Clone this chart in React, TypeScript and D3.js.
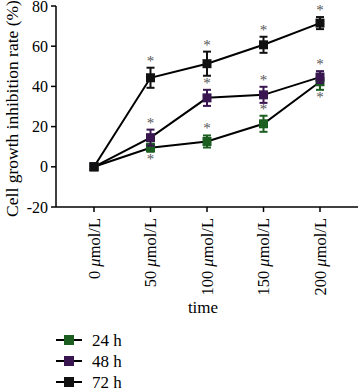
import React from "react";
import * as d3 from "d3";

const categories = ["0", "50", "100", "150", "200"];
const seriesNames = ["24 h", "48 h", "72 h"];
const colors = ["#1b5e20", "#3a1650", "#111111"];
const values24 = [0, 9.5, 12.6, 21.4, 42.3];
const err24 = [0, 2, 3, 4, 4];
const values48 = [0, 14.5, 34.3, 35.8, 44.6];
const err48 = [0, 4, 4, 4, 3];
const values72 = [0, 44.3, 51.3, 60.7, 71.5];
const err72 = [0, 5, 6, 4, 3];
// star placement: 1 above, -1 below, 0 none
const star24 = [0, -1, 1, 1, -1];
const star48 = [0, 1, 1, 1, 1];
const star72 = [0, 1, 1, 1, 1];
const yTicks = [-20, 0, 20, 40, 60, 80];

const series = [
  { name: seriesNames[0], color: colors[0], v: values24, e: err24, s: star24 },
  { name: seriesNames[1], color: colors[1], v: values48, e: err48, s: star48 },
  { name: seriesNames[2], color: colors[2], v: values72, e: err72, s: star72 },
];

const FONT = "'Liberation Serif', 'DejaVu Serif', serif";

export default function App() {
  const left = 56, right = 358, top = 6, bottom = 207;
  const x = d3.scalePoint().domain(categories).range([94, 320]);
  const y = d3.scaleLinear().domain([-20, 80]).range([bottom, top]);
  const line = d3.line<number>().x((_, i) => x(categories[i])!).y((d) => y(d));
  const ms = 9;
  return (
    <svg width={358} height={390} style={{ position: "absolute", left: 0, top: 0 }} fontFamily={FONT}>
      {/* y axis */}
      <line x1={left} x2={left} y1={top} y2={bottom} stroke="#000" strokeWidth={1.5} />
      {yTicks.map((t) => (
        <g key={t}>
          <line x1={left - 5} x2={left} y1={y(t)} y2={y(t)} stroke="#000" strokeWidth={1.5} />
          <text x={left - 8} y={y(t)} dy="0.35em" textAnchor="end" fontSize={16}>{t}</text>
        </g>
      ))}
      <text transform={`translate(12,${(top + bottom) / 2 + 2}) rotate(-90)`} textAnchor="middle" fontSize={17.5} dy="0.35em">
        Cell growth inhibition rate (%)
      </text>
      {/* x axis */}
      <line x1={left} x2={right} y1={bottom} y2={bottom} stroke="#000" strokeWidth={1.5} />
      {categories.map((c) => (
        <g key={c}>
          <line x1={x(c)!} x2={x(c)!} y1={bottom} y2={bottom + 5} stroke="#000" strokeWidth={1.5} />
          <text transform={`translate(${x(c)!},${bottom + 11}) rotate(-90)`} textAnchor="end" dy="0.35em" fontSize={16.5}>
            {c} <tspan fontStyle="italic">μ</tspan>mol/L
          </text>
        </g>
      ))}
      <text x={203} y={313} textAnchor="middle" fontSize={17}>time</text>
      {/* lines */}
      {series.map((s) => (
        <path key={s.name + "l"} d={line(s.v)!} fill="none" stroke="#000" strokeWidth={2} />
      ))}
      {series.map((s) => (
        <g key={s.name}>
          {s.v.map((v, i) => {
            const cx = x(categories[i])!;
            const cy = y(v);
            const e = s.e[i];
            return (
              <g key={i}>
                {e > 0 && (
                  <g stroke={s.color} strokeWidth={2}>
                    <line x1={cx} x2={cx} y1={y(v + e)} y2={y(v - e)} />
                    <line x1={cx - 4} x2={cx + 4} y1={y(v + e)} y2={y(v + e)} />
                    <line x1={cx - 4} x2={cx + 4} y1={y(v - e)} y2={y(v - e)} />
                  </g>
                )}
                <rect x={cx - ms / 2} y={cy - ms / 2} width={ms} height={ms} fill={s.color} />
                {s.s[i] !== 0 && (
                  <text x={cx} y={s.s[i] > 0 ? y(v + e) - 2 : y(v - e) + 12} textAnchor="middle" fontSize={15} fill="#555">*</text>
                )}
              </g>
            );
          })}
        </g>
      ))}
      {/* legend */}
      {series.map((s, i) => {
        const ly = 340 + i * 21;
        return (
          <g key={s.name + "lg"}>
            <line x1={56} x2={82} y1={ly} y2={ly} stroke="#000" strokeWidth={2} />
            <rect x={64} y={ly - 5} width={10} height={10} fill={s.color} />
            <text x={92} y={ly} dy="0.35em" fontSize={17}>{s.name}</text>
          </g>
        );
      })}
    </svg>
  );
}
